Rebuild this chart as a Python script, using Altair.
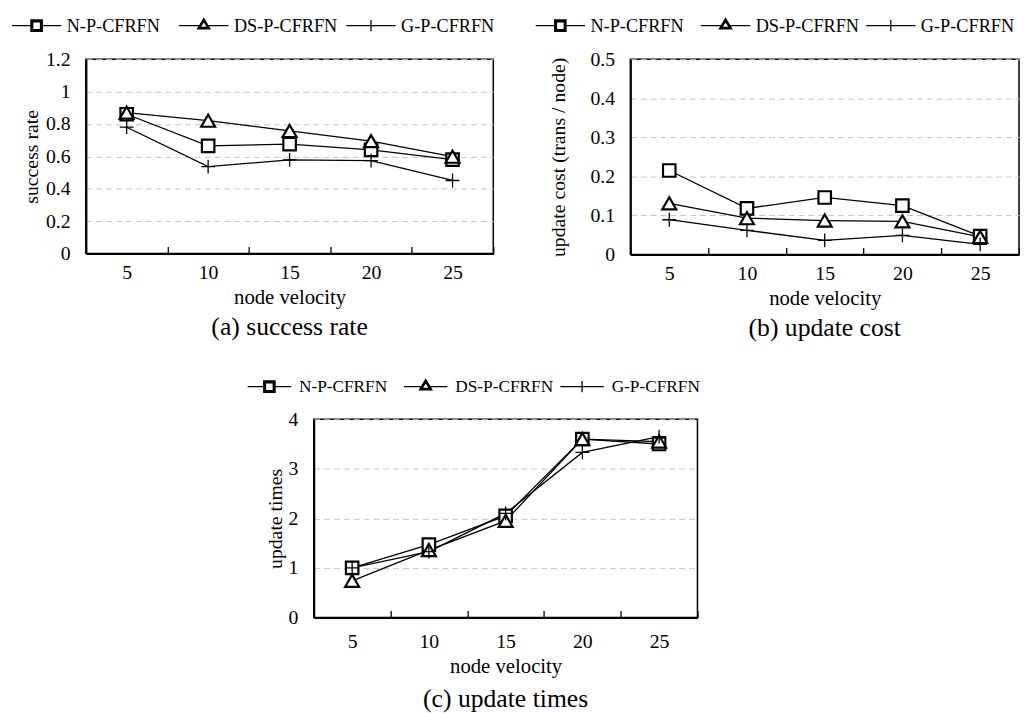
import altair as alt
import pandas as pd

# ---------------- data ----------------
velocity = ["5", "10", "15", "20", "25"]
series = ["N-P-CFRFN", "DS-P-CFRFN", "G-P-CFRFN"]

success_n = [0.86, 0.665, 0.675, 0.64, 0.58]
success_ds = [0.87, 0.82, 0.757, 0.694, 0.598]
success_g = [0.78, 0.537, 0.578, 0.574, 0.451]

cost_n = [0.215, 0.118, 0.146, 0.125, 0.047]
cost_ds = [0.131, 0.093, 0.087, 0.085, 0.045]
cost_g = [0.089, 0.062, 0.036, 0.049, 0.026]

times_n = [1.0, 1.47, 2.05, 3.6, 3.5]
times_ds = [0.74, 1.36, 1.95, 3.6, 3.55]
times_g = [1.0, 1.33, 2.1, 3.33, 3.65]

FONT = "Liberation Serif, Times New Roman, Tinos, DejaVu Serif, serif"
NOSTROKE = alt.ViewConfig(stroke="transparent")


def make_df(n, ds, g):
    rows = []
    for s, vals in zip(series, [n, ds, g]):
        for i, (v, y) in enumerate(zip(velocity, vals)):
            rows.append({"velocity": v, "series": s, "value": y, "idx": i})
    return pd.DataFrame(rows)


PLUS = "M-1,0H1M0,-1V1"


def sq_path(h):
    return f"M{-h},{-h}H{h}V{h}H{-h}Z"


def tri_path(k):
    cy = -0.05
    ay = round(cy + k * (-1.4), 3)
    by = round(cy + k * 0.7, 3)
    hw = round(1.25 * k, 3)
    return f"M0,{ay}L{hw},{by}L{-hw},{by}Z"


def legend_paths(half):
    sq = (f"M{-half},0H-1.15M1.15,0H{half}"
          + sq_path(1.15) + sq_path(0.97) + sq_path(0.79))
    tri = (f"M{-half},0H-0.86M0.86,0H{half}"
           + tri_path(1.0) + tri_path(0.8) + tri_path(0.6))
    plus = f"M{-half},0H{half}M0,-1.15V1.15"
    return [sq, tri, plus]


def legend_chart(half, centers, width, label_size, gap):
    df = pd.DataFrame({"series": series})
    x = alt.X("series:N", sort=series, axis=None,
              scale=alt.Scale(type="point", domain=series, range=centers,
                              padding=0))
    sym = alt.Chart(df).mark_point(
        filled=False, stroke="black", strokeWidth=1.3, size=100, opacity=1
    ).encode(
        x=x,
        shape=alt.Shape("series:N", legend=None,
                        scale=alt.Scale(domain=series, range=legend_paths(half))),
    )
    txt = alt.Chart(df).mark_text(
        align="left", baseline="middle", dx=half * 5 + gap,
        fontSize=label_size, font=FONT, color="black",
    ).encode(x=x, text="series:N")
    return alt.layer(sym, txt).properties(width=width, height=20, view=NOSTROKE)


def spacer(w):
    return alt.Chart(pd.DataFrame({"a": [0]})).mark_point(opacity=0).properties(
        width=w, height=1, view=NOSTROKE
    )


def panel(df, ymax, yvals, ytitle, caption, width, height,
          x_label_pad, y_title_pad, x_title_pad, cap_off):
    x = alt.X(
        "velocity:N", sort=velocity,
        scale=alt.Scale(type="band", paddingInner=0, paddingOuter=0),
        axis=alt.Axis(
            title="node velocity", labelAngle=0, tickBand="extent",
            ticks=False, grid=True, gridColor="black", gridWidth=1.3,
            gridDash=[0, height - 7, 7, 400], labelPadding=x_label_pad,
            titlePadding=x_title_pad, titleFontSize=21, domainWidth=2,
        ),
    )
    y = alt.Y(
        "value:Q",
        scale=alt.Scale(domain=[0, ymax], nice=False, zero=True),
        axis=alt.Axis(
            values=yvals, format="~g", title=ytitle, ticks=False, grid=True,
            gridColor="#c4c4c4", gridDash=[6, 4], gridWidth=1,
            labelPadding=16, titlePadding=y_title_pad, domainWidth=2,
        ),
    )
    base = alt.Chart(df).encode(x=x, y=y)
    lines = base.mark_line(color="black", strokeWidth=1.3).encode(
        detail="series:N", order=alt.Order("idx:Q")
    )
    pt_sq = base.transform_filter(alt.datum.series == series[0]).mark_point(
        shape="square", filled=True, fill="white", stroke="black",
        strokeWidth=2.2, size=160, opacity=1,
    )
    pt_tri = base.transform_filter(alt.datum.series == series[1]).mark_point(
        shape="triangle-up", filled=True, fill="white", stroke="black",
        strokeWidth=2.2, size=200, opacity=1,
    )
    pt_plus = base.transform_filter(alt.datum.series == series[2]).mark_point(
        shape=PLUS, filled=True, fill="white", stroke="black",
        strokeWidth=1.3, size=196, opacity=1,
    )
    return alt.layer(lines, pt_sq, pt_tri, pt_plus).properties(
        width=width, height=height,
        title=alt.TitleParams(caption, orient="bottom", fontSize=26,
                              font=FONT, fontWeight="normal", color="black",
                              frame="group", offset=cap_off),
    )


pa = panel(
    make_df(success_n, success_ds, success_g), 1.2,
    [0, 0.2, 0.4, 0.6, 0.8, 1, 1.2], "success rate", "(a) success rate",
    413, 197, 9, 4, 5, 7,
)
pb = panel(
    make_df(cost_n, cost_ds, cost_g), 0.5,
    [0, 0.1, 0.2, 0.3, 0.4, 0.5], "update cost (trans / node)",
    "(b) update cost",
    394, 198, 9, 22, 5, 7,
)
pc = panel(
    make_df(times_n, times_ds, times_g), 4,
    [0, 1, 2, 3, 4], "update times", "(c) update times",
    389, 201, 14, 3, 5, 10,
)

leg_a = legend_chart(5, [25, 364], 526, 18.5, 5.5)
leg_b = legend_chart(5, [25, 360], 300, 18.5, 5.5)
leg_c = legend_chart(4.4, [22, 339], 300, 17.5, 8)


def ind(c):
    return c.resolve_scale(shape="independent", x="independent")


row1 = ind(alt.hconcat(leg_a, leg_b, spacing=0))
row2 = ind(alt.hconcat(alt.hconcat(spacer(8), pa, spacing=0), pb, spacing=54))
row3 = ind(alt.hconcat(spacer(234), leg_c, spacing=0))
row4 = ind(alt.hconcat(spacer(255), pc, spacing=0))

upper = ind(alt.vconcat(row1, row2, spacing=12))
lower = ind(alt.vconcat(row3, row4, spacing=11))

chart = ind(alt.vconcat(upper, lower, spacing=32)).properties(
    padding={"left": 0, "top": 2, "right": 0, "bottom": 0}
).configure(font=FONT).configure_view(
    stroke="black", strokeWidth=1.5
).configure_axis(
    labelFont=FONT, titleFont=FONT, labelFontSize=20, titleFontSize=20,
    labelColor="black", titleColor="black", titleFontWeight="normal",
    domainColor="black",
)

chart.save("out.html", embed_options={"renderer": "svg", "actions": False})
